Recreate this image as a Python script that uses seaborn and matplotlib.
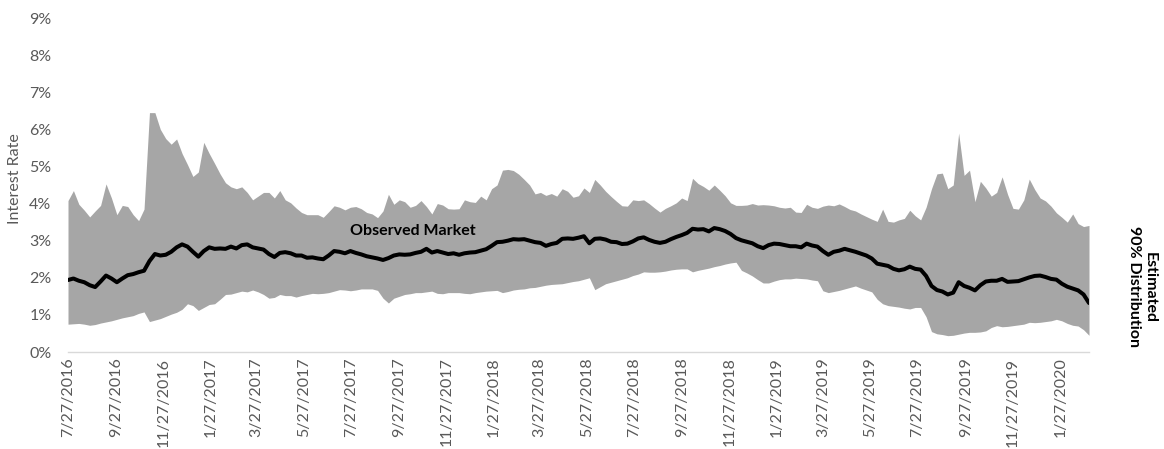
import numpy as np
import pandas as pd
import matplotlib
matplotlib.use("Agg")
import matplotlib.pyplot as plt
import seaborn as sns

# ---- data (weekly samples, percent) ----
start_date = "2016-07-27"
upper_pct = [
    4.08, 4.35, 3.98, 3.82, 3.64, 3.8, 3.95, 4.53, 4.15, 3.7, 3.95, 3.92, 3.7, 3.54, 3.85, 6.45, 6.45, 6.0, 5.75, 5.6, 5.74, 5.35, 5.05, 4.73, 4.85, 5.65, 5.35,
    5.08, 4.8, 4.56, 4.45, 4.4, 4.45, 4.3, 4.1, 4.2, 4.3, 4.3, 4.15, 4.35, 4.1, 4.02, 3.88, 3.76, 3.7, 3.7, 3.7, 3.63, 3.78, 3.94, 3.9, 3.83, 3.9,
    3.92, 3.86, 3.76, 3.72, 3.62, 3.8, 4.25, 3.98, 4.1, 4.05, 3.9, 3.95, 4.08, 3.92, 3.72, 4.0, 3.96, 3.86, 3.85, 3.86, 4.1, 4.05, 4.03, 4.2, 4.1, 4.4, 4.5,
    4.9, 4.92, 4.89, 4.79, 4.65, 4.5, 4.26, 4.3, 4.22, 4.27, 4.2, 4.4, 4.33, 4.17, 4.21, 4.42, 4.3, 4.65, 4.5, 4.33, 4.19, 4.06, 3.94, 3.93, 4.1, 4.08, 4.1,
    4.0, 3.88, 3.77, 3.87, 3.94, 4.02, 4.15, 4.08, 4.68, 4.54, 4.46, 4.36, 4.5, 4.36, 4.21, 4.02, 3.95, 3.95, 3.96, 4.0, 3.96, 3.97, 3.96, 3.94, 3.9, 3.88, 3.9,
    3.77, 3.76, 3.98, 3.9, 3.87, 3.93, 3.96, 3.94, 3.99, 3.92, 3.84, 3.8, 3.72, 3.65, 3.58, 3.52, 3.85, 3.52, 3.5, 3.56, 3.6, 3.82, 3.67, 3.56, 3.9, 4.4,
    4.8, 4.82, 4.4, 4.5, 5.9, 4.76, 4.9, 4.05, 4.6, 4.42, 4.2, 4.3, 4.72, 4.25, 3.87, 3.85, 4.1, 4.66, 4.38, 4.15, 4.07, 3.93, 3.75, 3.63, 3.5, 3.72, 3.46, 3.38, 3.41,
]
lower_pct = [
    0.75, 0.76, 0.77, 0.75, 0.72, 0.74, 0.78, 0.81, 0.84, 0.88, 0.92, 0.95, 0.98, 1.04, 1.08, 0.82, 0.86, 0.9, 0.96, 1.02, 1.07, 1.15, 1.3, 1.25, 1.12, 1.2, 1.28,
    1.3, 1.42, 1.55, 1.56, 1.6, 1.64, 1.62, 1.67, 1.62, 1.55, 1.45, 1.47, 1.55, 1.52, 1.52, 1.48, 1.52, 1.55, 1.58, 1.57, 1.58, 1.6, 1.64, 1.68, 1.67, 1.65,
    1.67, 1.7, 1.7, 1.7, 1.66, 1.45, 1.32, 1.45, 1.5, 1.55, 1.57, 1.6, 1.6, 1.62, 1.64, 1.58, 1.57, 1.6, 1.6, 1.6, 1.58, 1.57, 1.6, 1.62, 1.64, 1.65, 1.66,
    1.6, 1.63, 1.67, 1.69, 1.7, 1.73, 1.74, 1.77, 1.8, 1.82, 1.83, 1.84, 1.87, 1.9, 1.92, 1.96, 2.0, 1.68, 1.76, 1.84, 1.88, 1.92, 1.96, 2.0, 2.06, 2.1, 2.16,
    2.15, 2.15, 2.16, 2.18, 2.21, 2.23, 2.24, 2.24, 2.16, 2.2, 2.23, 2.26, 2.3, 2.33, 2.37, 2.4, 2.42, 2.2, 2.13, 2.05, 1.95, 1.86, 1.86, 1.91, 1.95, 1.97, 1.97,
    1.99, 1.98, 1.97, 1.94, 1.92, 1.65, 1.6, 1.63, 1.66, 1.7, 1.74, 1.78, 1.72, 1.67, 1.62, 1.42, 1.3, 1.25, 1.23, 1.21, 1.18, 1.16, 1.2, 1.2, 0.95, 0.55,
    0.49, 0.47, 0.44, 0.45, 0.48, 0.51, 0.53, 0.53, 0.54, 0.57, 0.66, 0.71, 0.68, 0.69, 0.71, 0.73, 0.75, 0.8, 0.79, 0.8, 0.82, 0.84, 0.88, 0.84, 0.77, 0.72, 0.7, 0.6, 0.45,
]
observed_pct = [
    1.94, 1.98, 1.92, 1.88, 1.8, 1.75, 1.9, 2.06, 1.98, 1.88, 1.98, 2.07, 2.1, 2.15, 2.19, 2.45, 2.64, 2.6, 2.62, 2.7, 2.82, 2.9, 2.84, 2.7, 2.57, 2.72, 2.82,
    2.78, 2.79, 2.78, 2.84, 2.79, 2.88, 2.9, 2.82, 2.79, 2.76, 2.64, 2.56, 2.67, 2.69, 2.66, 2.6, 2.6, 2.54, 2.55, 2.52, 2.5, 2.6, 2.72, 2.7, 2.66, 2.72,
    2.67, 2.63, 2.58, 2.55, 2.52, 2.48, 2.53, 2.6, 2.63, 2.62, 2.63, 2.67, 2.7, 2.78, 2.68, 2.72, 2.68, 2.64, 2.66, 2.62, 2.66, 2.68, 2.69, 2.73, 2.77, 2.86, 2.96,
    2.97, 3.0, 3.04, 3.03, 3.04, 3.0, 2.96, 2.94, 2.86, 2.91, 2.94, 3.05, 3.06, 3.05, 3.08, 3.12, 2.93, 3.05, 3.06, 3.03, 2.97, 2.96, 2.91, 2.92, 2.98, 3.06, 3.09,
    3.02, 2.97, 2.94, 2.97, 3.04, 3.1, 3.15, 3.21, 3.32, 3.3, 3.31, 3.25, 3.34, 3.31, 3.26, 3.18, 3.07, 3.01, 2.97, 2.93, 2.85, 2.8, 2.88, 2.92, 2.91, 2.88, 2.85,
    2.85, 2.82, 2.92, 2.87, 2.84, 2.72, 2.62, 2.7, 2.73, 2.78, 2.74, 2.7, 2.65, 2.6, 2.52, 2.38, 2.35, 2.32, 2.24, 2.2, 2.23, 2.3, 2.24, 2.22, 2.05, 1.78,
    1.67, 1.63, 1.55, 1.6, 1.88, 1.78, 1.73, 1.66, 1.8, 1.9, 1.92, 1.92, 1.97, 1.89, 1.9, 1.91, 1.96, 2.01, 2.05, 2.06, 2.02, 1.97, 1.95, 1.84, 1.76, 1.71, 1.66, 1.55, 1.32,
]
y_ticks = [0, 1, 2, 3, 4, 5, 6, 7, 8, 9]
tick_start = "2016-07-27"
tick_end = "2020-01-27"

dates = pd.date_range(start_date, periods=len(observed_pct), freq="7D")
df = pd.DataFrame({"date": dates, "upper": upper_pct, "lower": lower_pct, "observed": observed_pct})

sns.set_style("white")
plt.rcParams["font.family"] = ["Lato", "DejaVu Sans"]

fig = plt.figure(figsize=(11.64, 4.49), dpi=100)
ax = fig.add_axes([68 / 1164, 97 / 449, (1089 - 68) / 1164, (431 - 97) / 449])

ax.fill_between(df["date"], df["lower"], df["upper"], color="#a6a6a6", linewidth=0, zorder=1)
sns.lineplot(data=df, x="date", y="observed", ax=ax, color="black", linewidth=2.9, zorder=3)

ax.set_xlim(df["date"].iloc[0], df["date"].iloc[-1])
ax.set_ylim(0, 9)
ax.set_yticks(y_ticks)
ax.set_yticklabels([f"{t}%" for t in y_ticks], color="#595959", fontsize=11.5)

ticks = []
d = pd.Timestamp(tick_start)
while d <= pd.Timestamp(tick_end):
    ticks.append(d)
    d = d + pd.DateOffset(months=2)
ax.set_xticks(ticks)
ax.set_xticklabels([f"{t.month}/{t.day}/{t.year}" for t in ticks], rotation=90,
                   color="#595959", fontsize=11.5)
ax.tick_params(axis="x", length=0, pad=4)
ax.tick_params(axis="y", length=0, pad=12)

for s in ["top", "right", "left"]:
    ax.spines[s].set_visible(False)
ax.spines["bottom"].set_color("#d9d9d9")
ax.spines["bottom"].set_linewidth(1.0)
ax.set_xlabel("")
ax.set_ylabel("Interest Rate", color="#595959", fontsize=11.5, labelpad=4)
ax.yaxis.set_label_coords(-0.045, 0.52)

ax.text(pd.Timestamp("2017-10-15"), 3.25, "Observed Market", fontsize=11.5,
        fontweight="bold", ha="center", va="center", color="black", zorder=4)

fig.text(1142 / 1164, 1 - 287 / 449, "Estimated\n90% Distribution", rotation=270,
         ha="center", va="center", multialignment="center", fontsize=11.5,
         fontweight="bold", color="black")

fig.savefig("out.png", dpi=100)
